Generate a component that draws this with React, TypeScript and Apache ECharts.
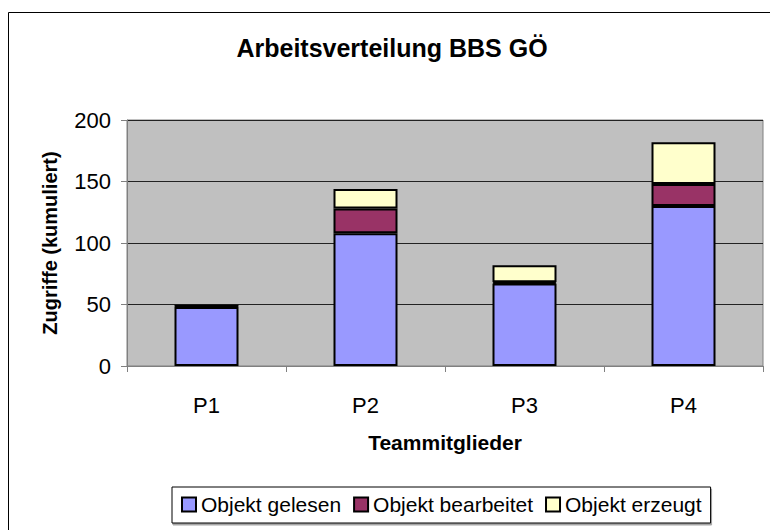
import React, { useEffect, useRef } from "react";
import * as echarts from "echarts";

const categories = ["P1", "P2", "P3", "P4"];
const seriesNames = ["Objekt gelesen", "Objekt bearbeitet", "Objekt erzeugt"];
const gelesen = [48, 108, 67, 130];
const bearbeitet = [1, 20, 1, 18];
const erzeugt = [0, 16, 14, 34];
const yTicks = { min: 0, max: 200, interval: 50 };
const titleText = "Arbeitsverteilung BBS GÖ";
const yAxisTitle = "Zugriffe (kumuliert)";
const xAxisTitle = "Teammitglieder";

const colors = ["#9999FF", "#993366", "#FFFFCC"];
const FONT = '"Liberation Sans", Arial, sans-serif';

export default function App() {
  const ref = useRef<HTMLDivElement>(null);
  useEffect(() => {
    if (!ref.current) return;
    const chart = echarts.init(ref.current, null, { renderer: "svg" });
    const values = [gelesen, bearbeitet, erzeugt];
    chart.setOption({
      animation: false,
      backgroundColor: "#ffffff",
      textStyle: { fontFamily: FONT },
      graphic: [
        {
          type: "rect",
          z: -1,
          silent: true,
          shape: { x: 8.5, y: 12.5, width: 800, height: 600 },
          style: { fill: "none", stroke: "#000", lineWidth: 1 },
        },
        {
          type: "text",
          x: 392,
          y: 48,
          style: {
            text: titleText,
            font: "bold 25px " + FONT,
            fill: "#000",
            textAlign: "center",
            textVerticalAlign: "middle",
            align: "center",
            verticalAlign: "middle",
          },
        },
      ],
      grid: {
        left: 127,
        right: 7,
        top: 120,
        bottom: 164,
        show: true,
        backgroundColor: "#C0C0C0",
        borderColor: "#808080",
        borderWidth: 1,
      },
      legend: {
        left: 172,
        top: 487,
        orient: "horizontal",
        padding: [7, 9, 8, 9],
        itemWidth: 14,
        itemHeight: 14,
        itemGap: 12,
        icon: "rect",
        backgroundColor: "#fff",
        borderColor: "#000",
        borderWidth: 1,
        shadowColor: "rgba(0,0,0,0.35)",
        shadowOffsetX: 1,
        shadowOffsetY: 2,
        shadowBlur: 0,
        textStyle: {
          fontSize: 21,
          fontFamily: FONT,
          color: "#000",
        },
        data: seriesNames,
      },
      xAxis: {
        type: "category",
        data: categories,
        name: xAxisTitle,
        nameLocation: "middle",
        nameGap: 66,
        nameTextStyle: { fontSize: 21, fontWeight: "bold", color: "#000", fontFamily: FONT },
        axisLine: { show: true, lineStyle: { color: "#808080", width: 1 } },
        axisTick: { show: true, alignWithLabel: false, length: 6, lineStyle: { color: "#808080" } },
        axisLabel: { fontSize: 22, color: "#000", margin: 28, fontFamily: FONT },
        splitLine: { show: false },
      },
      yAxis: {
        type: "value",
        min: yTicks.min,
        max: yTicks.max,
        interval: yTicks.interval,
        name: yAxisTitle,
        nameLocation: "middle",
        nameRotate: 90,
        nameGap: 67,
        nameTextStyle: { fontSize: 20, fontWeight: "bold", color: "#000", fontFamily: FONT },
        axisLine: { show: true, lineStyle: { color: "#808080", width: 1 } },
        axisTick: { show: true, length: 6, lineStyle: { color: "#808080" } },
        axisLabel: { fontSize: 22, color: "#000", margin: 16, fontFamily: FONT },
        splitLine: { show: true, lineStyle: { color: "#222", width: 1 } },
      },
      series: seriesNames.map((name, i) => ({
        name,
        type: "bar",
        stack: "total",
        barWidth: 64,
        data: values[i],
        itemStyle: { color: colors[i], borderColor: "#000", borderWidth: 2 },
      })),
    });
    return () => chart.dispose();
  }, []);
  return (
    <div
      ref={ref}
      style={{ position: "absolute", left: 0, top: 0, width: 770, height: 530 }}
    />
  );
}
